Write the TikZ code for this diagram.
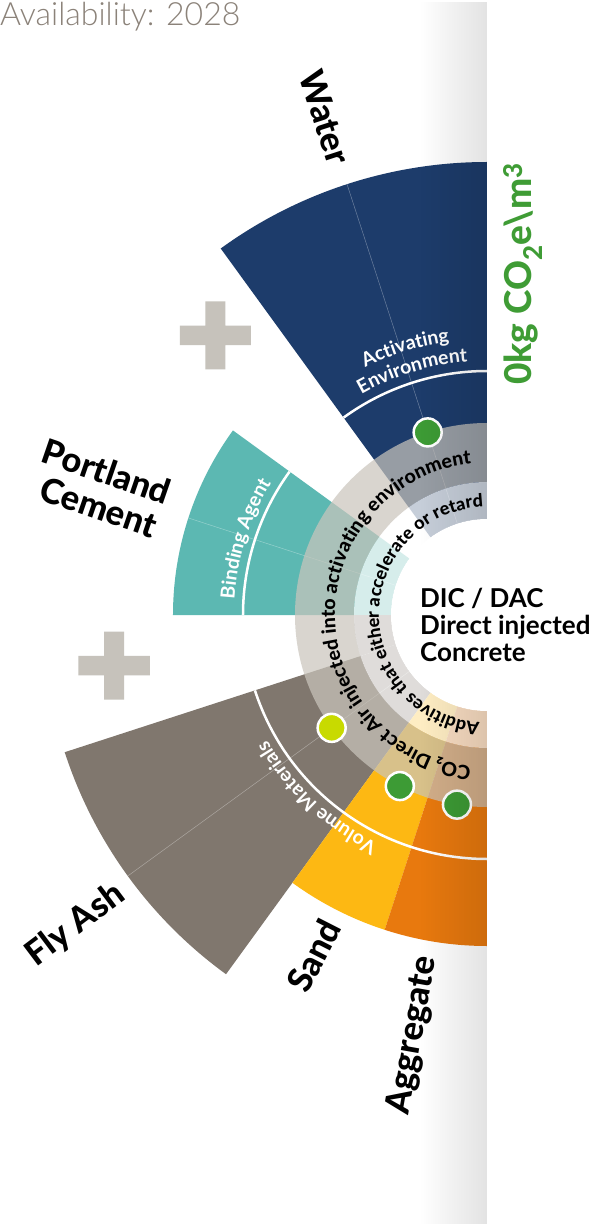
\documentclass[tikz,border=0pt]{standalone}
\usepackage{fontspec}
\setmainfont{Lato}
\newfontfamily\heavyfont{Lato Heavy}
\newfontfamily\lightfont{Lato Light}
\usetikzlibrary{decorations.text,fadings}

\definecolor{water}{HTML}{1D3C6B}
\definecolor{cement}{HTML}{5CB8B2}
\definecolor{flyash}{HTML}{80776E}
\definecolor{sand}{HTML}{FDB813}
\definecolor{aggregate}{HTML}{E8790E}
\definecolor{ringgrey}{HTML}{CAC5BC}
\definecolor{plusgrey}{HTML}{C6C2BB}
\definecolor{dotgreen}{HTML}{3D9B35}
\definecolor{dotlime}{HTML}{C8DA00}
\definecolor{co2green}{HTML}{3F9C35}
\definecolor{availgrey}{HTML}{8B8279}

% annular sector: start angle, end angle, inner radius, outer radius
\newcommand{\annsector}[4]{(#1:#4) arc[start angle=#1,end angle=#2,radius=#4] -- (#2:#3) arc[start angle=#2,end angle=#1,radius=#3] -- cycle}
\newcommand{\ringAfont}{\heavyfont\fontsize{19.5}{19.5}\selectfont}
\newcommand{\ringBfont}{\heavyfont\fontsize{18}{18}\selectfont}
\newcommand{\grpfont}{\bfseries\fontsize{19.5}{19.5}\selectfont\color{white}}

\tikzfading[name=edgeshadow, left color=transparent!100, middle color=transparent!78, right color=transparent!0]

\tikzset{
  spoke/.style={white, opacity=.35, line width=.5pt},
  grouparc/.style={white, line width=2.5pt},
  dot/.style={circle, draw=white, line width=2.5pt, minimum size=28pt, inner sep=0pt},
  outerlabel/.style={font=\heavyfont\fontsize{34.5}{36}\selectfont, inner sep=0pt, anchor=east},
  centretext/.style={font=\bfseries\fontsize{26}{26}\selectfont, inner sep=0pt, anchor=base west},
}

\begin{document}
\begin{tikzpicture}[x=1pt,y=1pt]
\useasboundingbox (-487,-609) rectangle (125,615);
\fill[white] (-487,-609) rectangle (125,615);

% ingredient sectors
\fill[water]     \annsector{90}{126}{96pt}{453pt};
\fill[cement]    \annsector{144}{180}{96pt}{314pt};
\fill[flyash]    \annsector{198}{234}{96pt}{444pt};
\fill[flyash]    \annsector{180}{198}{96pt}{133pt};
\fill[sand]      \annsector{234}{252}{96pt}{331pt};
\fill[aggregate] \annsector{252}{270}{96pt}{331pt};

% centre lines of the sectors
\draw[spoke] (108:96pt) -- (108:453pt);
\draw[spoke] (162:96pt) -- (162:314pt);
\draw[spoke] (216:96pt) -- (216:444pt);

% translucent rings
\fill[ringgrey, opacity=.71] \annsector{90}{270}{133pt}{192pt};
\fill[white, opacity=.75]    \annsector{90}{270}{96pt}{133pt};

% group arcs
\draw[grouparc] (90:244pt) arc[start angle=90,end angle=126,radius=244pt];
\draw[grouparc] (144:244pt) arc[start angle=144,end angle=180,radius=244pt];
\draw[grouparc] (198:244pt) arc[start angle=198,end angle=270,radius=244pt];

% ring captions
\path[decorate, decoration={text along path, text align=center,
  text={|\ringAfont|CO₂ Direct Air injected into activating environment}}]
  (275:152pt) arc[start angle=275,end angle=85,radius=152pt];
\path[decorate, decoration={text along path, text align=center,
  text={|\ringBfont|Additives that either accelerate or retard}}]
  (275:108pt) arc[start angle=275,end angle=83,radius=108pt];

% group captions
\path[decorate, decoration={text along path, text align=center, text={|\grpfont|Activating}}]
  (125:276pt) arc[start angle=125,end angle=89,radius=276pt];
\path[decorate, decoration={text along path, text align=center, text={|\grpfont|Environment}}]
  (125:254pt) arc[start angle=125,end angle=89,radius=254pt];
\path[decorate, decoration={text along path, text align=center, text={|\grpfont|Binding Agent}}]
  (180:253pt) arc[start angle=180,end angle=145,radius=253pt];
\path[decorate, decoration={text along path, text align=center, text={|\grpfont|Volume Materials}}]
  (250:253pt) arc[start angle=250,end angle=204,radius=253pt];

% markers
\node[dot, fill=dotgreen] (dotwater) at (108:192pt) {};
\node[dot, fill=dotlime]  (dotflyash) at (216:192pt) {};
\node[dot, fill=dotgreen] (dotsand) at (243:192pt) {};
\node[dot, fill=dotgreen] (dotaggregate) at (261:192pt) {};

% shadow of the right-hand panel
\fill[black, opacity=.15, path fading=edgeshadow] (-67.5,-609) rectangle (22.5,615);

% hub and right-hand panel
\fill[white] (0,0) circle (96pt);
\fill[white] (0,-609) rectangle (125,615);

% ingredient labels
\node[outerlabel, rotate=-72] (lblwater) at (108:475pt) {Water};
\node[outerlabel, rotate=-19, align=left] (lblcement) at (162:340pt) {Portland\\\hspace*{10pt}Cement};
\node[outerlabel, rotate=37] (lblflyash) at (217:458pt) {Fly Ash};
\node[outerlabel, rotate=63] (lblsand) at (243:344pt) {Sand};
\node[outerlabel, rotate=80] (lblaggregate) at (260:347pt) {Aggregate};

% plus signs
\begin{scope}[shift={(-271.5,279.5)}]
  \fill[plusgrey] (-35.5,-9.75) rectangle (35.5,9.75) (-10,-34) rectangle (10,34);
\end{scope}
\begin{scope}[shift={(-372.9,-50.5)}]
  \fill[plusgrey] (-35.8,-9.75) rectangle (35.8,9.75) (-10,-34) rectangle (10,34);
\end{scope}

% hub text
\node[centretext] (hub1) at (-67,8) {DIC / DAC};
\node[centretext] (hub2) at (-67,-19) {Direct injected};
\node[centretext] (hub3) at (-67,-46) {Concrete};

% embodied carbon
\node[rotate=90, anchor=base west, inner sep=0pt, text=co2green,
      font=\heavyfont\fontsize{37}{37}\selectfont] (carbon) at (45,230)
      {0kg CO\textsubscript{2}e\textbackslash m\textsuperscript{3}};

% availability
\node[anchor=base west, inner sep=0pt, text=availgrey,
      font=\lightfont\fontsize{32}{32}\selectfont] (avail) at (-487,589) {Availability: 2028};
\end{tikzpicture}
\end{document}
